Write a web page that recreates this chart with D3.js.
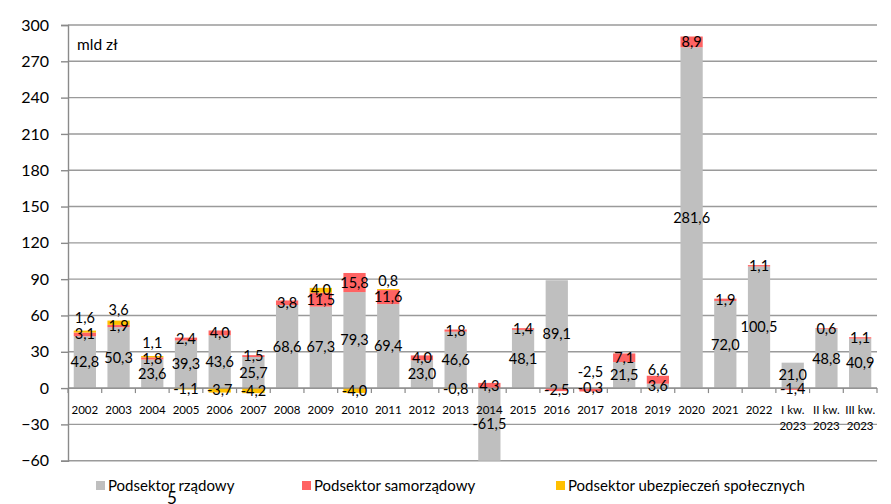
<!DOCTYPE html>
<html>
<head>
<meta charset="utf-8">
<script src="https://cdn.jsdelivr.net/npm/d3@7"></script>
<style>
  body { margin: 0; background: #fff; }
  text { font-family: Lato, "Liberation Sans", sans-serif; fill: #000; }
</style>
</head>
<body>
<script>
// categories and the three subsector series (mld zł)
var categories = ["2002", "2003", "2004", "2005", "2006", "2007", "2008", "2009", "2010", "2011",
  "2012", "2013", "2014", "2015", "2016", "2017", "2018", "2019", "2020", "2021", "2022",
  "I kw. 2023", "II kw. 2023", "III kw. 2023"];
var rzadowy =     [42.8, 50.3, 23.6, 39.3, 43.6, 25.7, 68.6, 67.3, 79.3, 69.4, 23.0, 46.6, -61.5, 48.1, 89.1, -0.3, 21.5, 3.6, 281.6, 72.0, 100.5, 21.0, 48.8, 40.9];
var samorzadowy = [3.1, 1.9, 1.8, 2.4, 4.0, 1.5, 3.8, 11.5, 15.8, 11.6, 4.0, 1.8, 4.3, 1.4, -2.5, -2.5, 7.1, 6.6, 8.9, 1.9, 1.1, -1.4, 0.6, 1.1];
var ubezpieczen = [1.6, 3.6, 1.1, -1.1, -3.7, -4.2, 0, 4.0, -4.0, 0.8, 0, -0.8, 0, 0, 0, 0, 0, 0, 0, 0, 0, 0, 0, 0];
var seriesNames = ["Podsektor rządowy", "Podsektor samorządowy", "Podsektor ubezpieczeń społecznych"];
var seriesColors = ["#bfbfbf", "#ff6363", "#ffc000"];
var yTicks = [-60, -30, 0, 30, 60, 90, 120, 150, 180, 210, 240, 270, 300];

var W = 891, H = 504;
var svg = d3.select("body").append("svg").attr("width", W).attr("height", H);

var x = d3.scaleBand().domain(categories).range([68, 877])
  .paddingInner(0.34).paddingOuter(0.17);
var y = d3.scaleLinear().domain([-60, 300]).range([460.7, 25]);

var table = categories.map(function (c, i) {
  return { cat: c, s0: rzadowy[i], s1: samorzadowy[i], s2: ubezpieczen[i] };
});
var stack = d3.stack().keys(["s0", "s1", "s2"]).offset(d3.stackOffsetDiverging);
var layers = stack(table);

// grid lines
svg.append("g").selectAll("line").data(yTicks).join("line")
  .attr("x1", 68).attr("x2", 877)
  .attr("y1", function (d) { return y(d); }).attr("y2", function (d) { return y(d); })
  .attr("stroke", "#9a9a9a").attr("stroke-width", 1.4);

// y axis
var yAxis = svg.append("g").attr("transform", "translate(68,0)")
  .call(d3.axisLeft(y).tickValues(yTicks).tickSize(7).tickPadding(12).tickFormat(d3.format("d")));
yAxis.select(".domain").attr("stroke", "#8a8a8a").attr("stroke-width", 1.4);
yAxis.selectAll(".tick line").attr("stroke", "#8a8a8a").attr("stroke-width", 1.4);
yAxis.selectAll(".tick text").attr("font-size", 16).attr("font-family", "Lato, 'Liberation Sans', sans-serif").attr("fill", "#000");

// bars
svg.append("clipPath").attr("id", "plot").append("rect")
  .attr("x", 68).attr("y", y(300)).attr("width", 809).attr("height", y(-60) - y(300));
var barG = svg.append("g").attr("clip-path", "url(#plot)");
layers.forEach(function (layer, k) {
  barG.append("g").selectAll("rect").data(layer).join("rect")
    .attr("x", function (d) { return x(d.data.cat); })
    .attr("width", x.bandwidth())
    .attr("y", function (d) { return y(Math.max(d[0], d[1])); })
    .attr("height", function (d) { return Math.abs(y(d[0]) - y(d[1])); })
    .attr("fill", seriesColors[k]);
});

// x axis line at zero + boundary ticks
var y0 = y(0);
svg.append("line").attr("x1", 68).attr("x2", 877).attr("y1", y0).attr("y2", y0)
  .attr("stroke", "#8a8a8a").attr("stroke-width", 1.4);
var step = x.step();
svg.append("g").selectAll("line").data(d3.range(categories.length + 1)).join("line")
  .attr("x1", function (i) { return 68 + i * step; }).attr("x2", function (i) { return 68 + i * step; })
  .attr("y1", y0).attr("y2", y0 + 5)
  .attr("stroke", "#8a8a8a").attr("stroke-width", 1.2);

// category labels
var catText = svg.append("g").selectAll("text").data(categories).join("text")
  .attr("x", function (d) { return x(d) + x.bandwidth() / 2; })
  .attr("text-anchor", "middle").attr("font-size", 11.5);
catText.each(function (d) {
  var parts = d.indexOf("kw.") > 0 ? [d.slice(0, d.indexOf("kw.") + 3), d.slice(d.indexOf("kw.") + 4)] : [d];
  var t = d3.select(this);
  parts.forEach(function (p, j) {
    t.append("tspan").attr("x", x(d) + x.bandwidth() / 2).attr("y", 414 + j * 16).text(p);
  });
});

// value labels: centred in segment, nudged up when they collide
var fmt = function (v) { return v.toFixed(1).replace(".", ","); };
var labels = [];
categories.forEach(function (c, i) {
  var placed = [];
  layers.forEach(function (layer) {
    var d = layer[i];
    var v = d[1] - d[0];
    var val = [rzadowy, samorzadowy, ubezpieczen][layer.index][i];
    if (val === 0) return;
    var a = Math.max(-60, Math.min(300, d[0])), b = Math.max(-60, Math.min(300, d[1]));
    var ly = y((a + b) / 2);
    var moved = true;
    while (moved) {
      moved = false;
      placed.forEach(function (p) {
        if (Math.abs(p - ly) < 8) { ly = p - 16; moved = true; }
      });
    }
    placed.push(ly);
    labels.push({ cat: c, y: ly, text: fmt(val) });
  });
});
svg.append("g").selectAll("text").data(labels).join("text")
  .attr("x", function (d) { return x(d.cat) + x.bandwidth() / 2; })
  .attr("y", function (d) { return d.y; })
  .attr("dy", "0.35em")
  .attr("text-anchor", "middle").attr("font-size", 14.5)
  .text(function (d) { return d.text; });

// unit
svg.append("text").attr("x", 77).attr("y", 50).attr("font-size", 15.5).text("mld zł");

// legend
var legendX = [96, 302, 556];
var lg = svg.append("g").selectAll("g").data(seriesNames).join("g")
  .attr("transform", function (d, i) { return "translate(" + legendX[i] + ",486)"; });
lg.append("rect").attr("x", 0).attr("y", -5).attr("width", 9).attr("height", 9)
  .attr("fill", function (d, i) { return seriesColors[i]; });
lg.append("text").attr("x", 12).attr("dy", "0.35em").attr("font-size", 15).text(function (d) { return d; });

// page number
svg.append("text").attr("x", 172).attr("y", 504).attr("text-anchor", "middle").attr("font-size", 17).text("5");
</script>
</body>
</html>
